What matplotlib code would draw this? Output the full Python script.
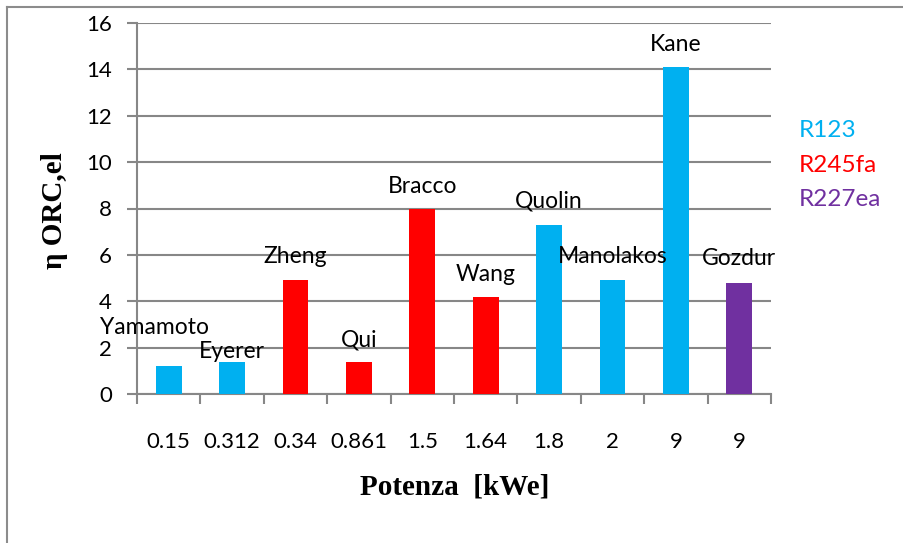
import matplotlib
matplotlib.use("Agg")
import matplotlib.pyplot as plt
from matplotlib.lines import Line2D

# ---- data ----
potenza = ["0.15", "0.312", "0.34", "0.861", "1.5", "1.64", "1.8", "2", "9", "9"]
autori = ["Yamamoto", "Eyerer", "Zheng", "Qui", "Bracco", "Wang", "Quolin",
          "Manolakos", "Kane", "Gozdur"]
eta = [1.2, 1.4, 4.9, 1.4, 8.0, 4.2, 7.3, 4.9, 14.1, 4.8]
fluido = ["R123", "R123", "R245fa", "R245fa", "R245fa", "R245fa", "R123",
          "R123", "R123", "R227ea"]
fluidi = ["R123", "R245fa", "R227ea"]

colori = {"R123": "#00B0F0", "R245fa": "#FF0000", "R227ea": "#7030A0"}
# label offsets (pixels) relative to bar top: (dx, dy)
offs = [(-14, 39), (0, 10), (0, 24), (0, 22), (0, 22), (0, 22), (0, 24),
        (0, 24), (0, 23), (0, 24)]

W, H, DPI = 904, 543, 100
fig = plt.figure(figsize=(W / DPI, H / DPI), dpi=DPI)
ax = fig.add_axes([137 / W, 1 - 394 / H, (771 - 137) / W, (394 - 23) / H])

x = list(range(len(eta)))
ax.bar(x, eta, width=0.41, color=[colori[f] for f in fluido], zorder=3)

grid_c = "#878787"
ax.set_xlim(-0.5, len(eta) - 0.5)
ax.set_ylim(0, 16)
ax.set_yticks(range(0, 17, 2))
ax.yaxis.grid(True, color=grid_c, linewidth=1.5, zorder=0)
for s in ["top", "right"]:
    ax.spines[s].set_visible(False)
for s in ["left", "bottom"]:
    ax.spines[s].set_color(grid_c)
    ax.spines[s].set_linewidth(1.5)

tfont = "Lato"
ax.set_xticks(x)
ax.set_xticklabels(potenza, fontfamily=tfont, fontsize=16)
ax.tick_params(axis="x", which="major", length=0, pad=27)
ax.set_xticks([i - 0.5 for i in range(len(eta) + 1)], minor=True)
ax.tick_params(axis="x", which="minor", length=7, width=1.5, color=grid_c)
ax.tick_params(axis="y", length=7, width=1.5, color=grid_c, pad=11,
               labelsize=16)
for lab in ax.get_yticklabels():
    lab.set_fontfamily(tfont)

for xi, v, name, (dx, dy) in zip(x, eta, autori, offs):
    ax.annotate(name, (xi, v), xytext=(dx * 0.72, dy * 0.72),
                textcoords="offset points", ha="center", va="center",
                fontfamily=tfont, fontsize=16.5, color="black", zorder=4)

# axis titles
fig.text(455 / W, 1 - 487 / H, "Potenza  [kWe]", ha="center", va="center",
         fontfamily="Liberation Serif", fontweight="bold", fontsize=21)
fig.text(55 / W, 1 - 211 / H, "\u03b7 ORC,el", ha="center", va="center",
         rotation=90, fontfamily="Liberation Serif", fontweight="bold",
         fontsize=21)

# coloured legend text
for f, yy in zip(fluidi, [131, 165, 199]):
    fig.text(799 / W, 1 - yy / H, f, ha="left", va="center",
             fontfamily=tfont, fontsize=17.5, color=colori[f])

# figure border (left and top visible)
fig.add_artist(Line2D([7 / W, 7 / W], [0, 1 - 7 / H], transform=fig.transFigure,
                      color="#8c8c8c", linewidth=1.5))
fig.add_artist(Line2D([7 / W, 1], [1 - 7 / H, 1 - 7 / H],
                      transform=fig.transFigure, color="#8c8c8c", linewidth=1.5))

fig.savefig("out.png", dpi=DPI)
